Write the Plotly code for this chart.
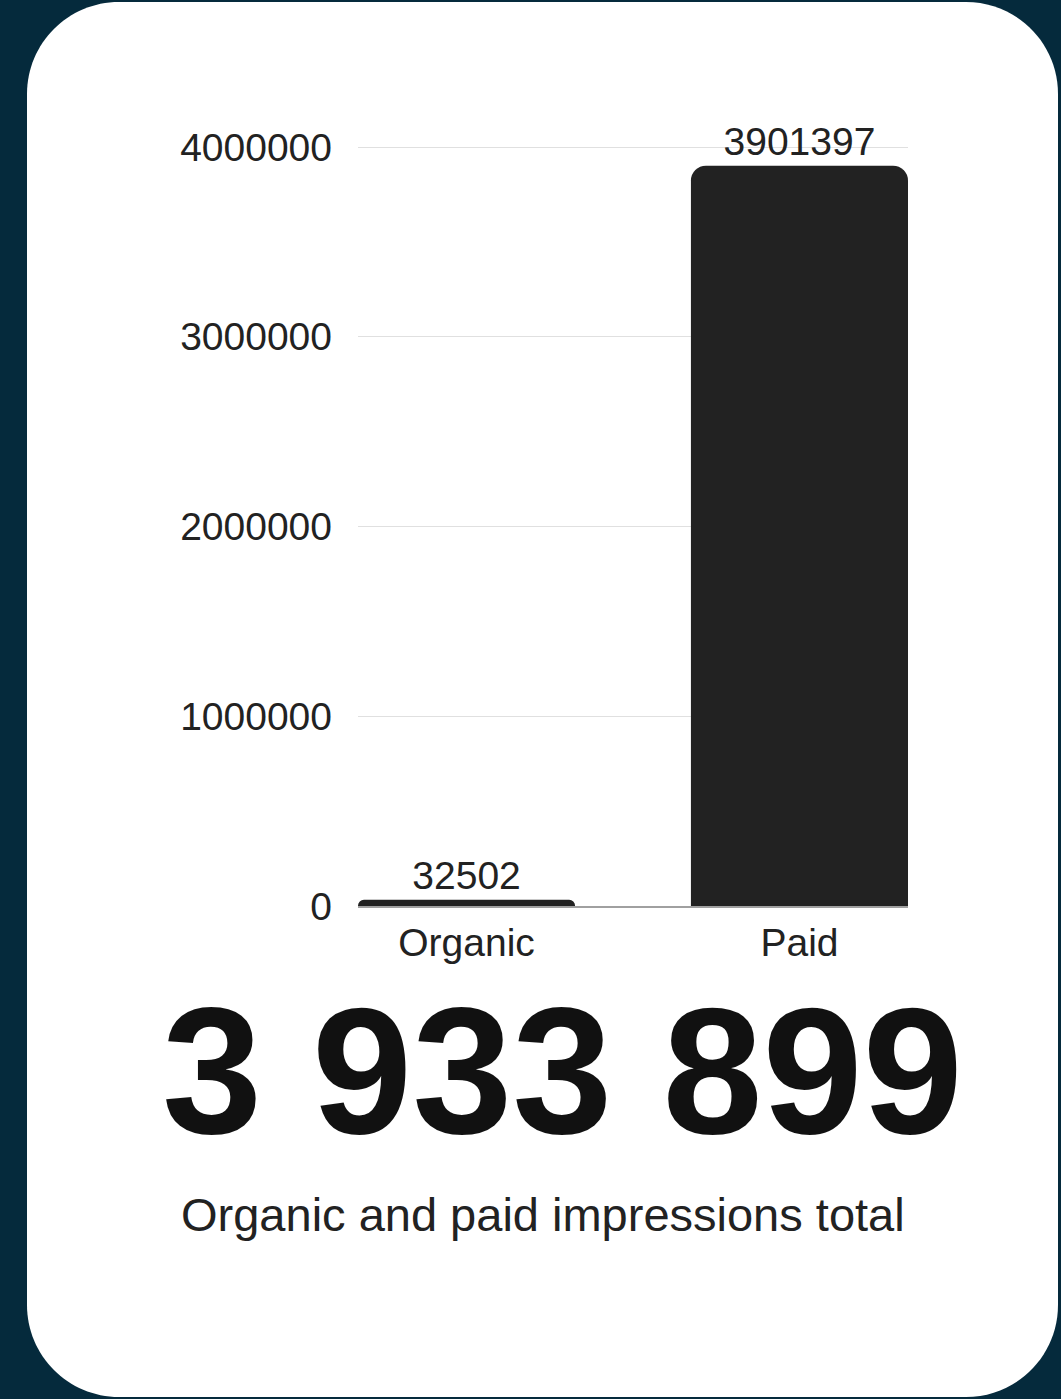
import plotly.graph_objects as go

# Impression counts by source
CATEGORIES = ["Organic", "Paid"]
IMPRESSIONS = [32502, 3901397]
Y_TICKS = [0, 1000000, 2000000, 3000000, 4000000]
SUBTITLE = "Organic and paid impressions total"

# Canvas and plot-area geometry (pixels)
W, H = 1061, 1399
ML, MR, MT, MB = 358, 153, 142, 493
PW = W - ML - MR
PH = H - MT - MB
PX_PER_MILLION = 189.75
Y_TOP = PH / PX_PER_MILLION * 1e6

NAVY = "#052a3c"
INK = "#222222"
FONT = "Liberation Sans, Arial, Helvetica, sans-serif"
K = 0.5523  # cubic approximation of a quarter circle


def px(x):
    return (x - ML) / PW


def py(y):
    return (H - MB - y) / PH


def rounded_rect(x0, y0, x1, y1, r):
    """SVG path (paper coords) for a rounded rectangle given in pixels."""
    c = r * (1 - K)
    pts = [
        f"M {px(x0 + r)} {py(y0)}",
        f"L {px(x1 - r)} {py(y0)}",
        f"C {px(x1 - c)} {py(y0)} {px(x1)} {py(y0 + c)} {px(x1)} {py(y0 + r)}",
        f"L {px(x1)} {py(y1 - r)}",
        f"C {px(x1)} {py(y1 - c)} {px(x1 - c)} {py(y1)} {px(x1 - r)} {py(y1)}",
        f"L {px(x0 + r)} {py(y1)}",
        f"C {px(x0 + c)} {py(y1)} {px(x0)} {py(y1 - c)} {px(x0)} {py(y1 - r)}",
        f"L {px(x0)} {py(y0 + r)}",
        f"C {px(x0)} {py(y0 + c)} {px(x0 + c)} {py(y0)} {px(x0 + r)} {py(y0)}",
        "Z",
    ]
    return " ".join(pts)


total = sum(IMPRESSIONS)
total_text = f"{total:,}".replace(",", " ")

fig = go.Figure(
    go.Bar(
        x=CATEGORIES,
        y=IMPRESSIONS,
        width=0.652,
        marker=dict(color=INK, line=dict(width=0)),
        text=[str(v) for v in IMPRESSIONS],
        textposition="outside",
        textfont=dict(family=FONT, size=39, color=INK),
        cliponaxis=False,
        hoverinfo="skip",
    )
)

fig.add_shape(
    type="path",
    xref="paper",
    yref="paper",
    path=rounded_rect(27, 2, 1058, 1397, 92),
    fillcolor="white",
    line=dict(width=0),
    layer="below",
)

fig.add_annotation(
    text=f"<b>{total_text}</b>",
    xref="paper",
    yref="paper",
    x=px(562),
    y=py(1070),
    xanchor="center",
    yanchor="middle",
    showarrow=False,
    font=dict(family=FONT, size=180, color="#111111"),
)

fig.add_annotation(
    text=SUBTITLE,
    xref="paper",
    yref="paper",
    x=px(543),
    y=py(1214),
    xanchor="center",
    yanchor="middle",
    showarrow=False,
    font=dict(family=FONT, size=47, color=INK),
)

fig.update_layout(
    width=W,
    height=H,
    autosize=False,
    margin=dict(l=ML, r=MR, t=MT, b=MB, pad=0),
    paper_bgcolor=NAVY,
    plot_bgcolor="rgba(0,0,0,0)",
    showlegend=False,
    barcornerradius=15,
    xaxis=dict(
        type="category",
        range=[-0.326, 1.326],
        showgrid=False,
        showline=True,
        linecolor="#a0a0a0",
        linewidth=1.5,
        ticks="",
        ticklabelstandoff=1,
        tickfont=dict(family=FONT, size=39, color=INK),
        fixedrange=True,
    ),
    yaxis=dict(
        range=[0, Y_TOP],
        tickvals=Y_TICKS,
        ticktext=[str(v) for v in Y_TICKS],
        showgrid=True,
        gridcolor="#e0e0e0",
        gridwidth=1,
        zeroline=False,
        ticks="",
        ticklabelstandoff=25,
        tickfont=dict(family=FONT, size=39, color=INK),
        fixedrange=True,
    ),
)

fig.write_html("out.html")
